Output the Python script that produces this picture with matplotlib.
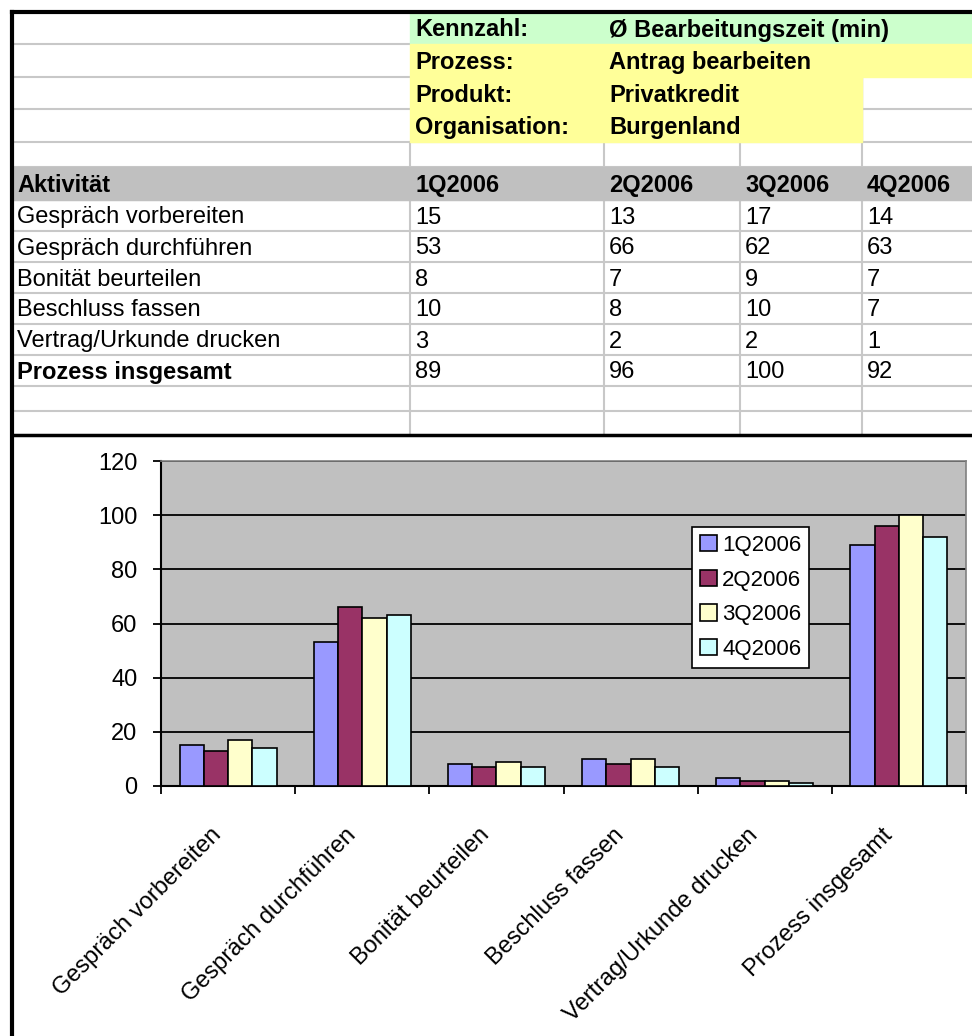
import matplotlib.pyplot as plt
import matplotlib.transforms as mtransforms
from matplotlib.patches import Rectangle

plt.rcParams['font.family'] = ['Liberation Sans', 'DejaVu Sans']

# data
quarters = ['1Q2006', '2Q2006', '3Q2006', '4Q2006']
activities = ['Gespräch vorbereiten', 'Gespräch durchführen', 'Bonität beurteilen',
              'Beschluss fassen', 'Vertrag/Urkunde drucken', 'Prozess insgesamt']
q1 = [15, 53, 8, 10, 3, 89]
q2 = [13, 66, 7, 8, 2, 96]
q3 = [17, 62, 9, 10, 2, 100]
q4 = [14, 63, 7, 7, 1, 92]
meta_labels = ['Kennzahl:', 'Prozess:', 'Produkt:', 'Organisation:']
meta_values = ['Ø Bearbeitungszeit (min)', 'Antrag bearbeiten', 'Privatkredit', 'Burgenland']

series = [q1, q2, q3, q4]
colors = ['#9999FF', '#993366', '#FFFFCC', '#CCFFFF']

W, H = 972, 1036
fig = plt.figure(figsize=(W / 100, H / 100), dpi=100)
fig.patch.set_facecolor('white')

# ---- spreadsheet part, drawn in pixel coordinates ----
tab = fig.add_axes([0, 0, 1, 1])
tab.set_xlim(0, W)
tab.set_ylim(H, 0)
tab.axis('off')

col_x = [12, 410, 604, 740, 862, 972]
row_y = [12, 44, 77, 109, 142, 167, 200, 231, 262, 293, 324, 355, 386, 411, 435]
grid_c = '#c8c8c8'

# fills
tab.add_patch(Rectangle((410, row_y[0]), 972 - 410, row_y[1] - row_y[0], color='#CCFFCC', zorder=1))
tab.add_patch(Rectangle((410, row_y[1]), 972 - 410, row_y[2] - row_y[1], color='#FFFF99', zorder=1))
tab.add_patch(Rectangle((410, row_y[2]), 862 - 410, row_y[4] - row_y[2], color='#FFFF99', zorder=1))
tab.add_patch(Rectangle((12, row_y[5]), 972 - 12, row_y[6] - row_y[5], color='#C0C0C0', zorder=1))

# horizontal grid lines
for i, y in enumerate(row_y[1:-1], start=1):
    if i <= 3:
        tab.plot([12, 410], [y, y], color=grid_c, lw=1.5, zorder=0.5)
        if i == 3:
            tab.plot([862, 972], [y, y], color=grid_c, lw=1.5, zorder=0.5)
    else:
        tab.plot([12, 972], [y, y], color=grid_c, lw=1.5, zorder=0.5)

# vertical grid lines (below the coloured block)
for x in col_x[1:-1]:
    tab.plot([x, x], [row_y[4], row_y[5]], color=grid_c, lw=1.5, zorder=0.5)
    tab.plot([x, x], [row_y[6], row_y[-1]], color=grid_c, lw=1.5, zorder=0.5)
tab.plot([862, 862], [row_y[2], row_y[4]], color=grid_c, lw=1.0, zorder=0.5)

# borders
tab.plot([12, 972], [12, 12], color='black', lw=3, zorder=3)
tab.plot([12, 12], [12, H], color='black', lw=3, zorder=3)
tab.plot([12, 972], [435, 435], color='black', lw=2.5, zorder=3)

fs = 17


def cell_text(col, row, s, bold=False):
    yc = (row_y[row] + row_y[row + 1]) / 2 + 2
    tab.text(col_x[col] + 5, yc, s, fontsize=fs, va='center', ha='left',
             fontweight='bold' if bold else 'normal', zorder=4)


for r, (lab, val) in enumerate(zip(meta_labels, meta_values)):
    cell_text(1, r, lab, bold=True)
    cell_text(2, r, val, bold=True)

cell_text(0, 5, 'Aktivität', bold=True)
for c, q in enumerate(quarters):
    cell_text(c + 1, 5, q, bold=True)

for r, act in enumerate(activities):
    cell_text(0, 6 + r, act, bold=(act == 'Prozess insgesamt'))
    for c, vals in enumerate(series):
        cell_text(c + 1, 6 + r, str(vals[r]))

# ---- chart ----
left, right, top, bottom = 161, 966, 461, 786
ax = fig.add_axes([left / W, (H - bottom) / H, (right - left) / W, (bottom - top) / H])
ax.set_facecolor('#C0C0C0')

bw = 0.181
xs = list(range(len(activities)))
for k, (vals, q, col) in enumerate(zip(series, quarters, colors)):
    ax.bar([x + (k - 1.5) * bw for x in xs], vals, width=bw, color=col,
           edgecolor='black', linewidth=1.2, label=q, zorder=3)

ax.set_xlim(-0.5, len(activities) - 0.5)
ax.set_ylim(0, 120)
ax.set_yticks(range(0, 121, 20))
ax.yaxis.grid(True, color='black', linewidth=1.3, zorder=1)
ax.set_axisbelow(True)

ax.set_xticks([x - 0.5 for x in range(len(activities) + 1)])
ax.set_xticklabels([])
ax.set_xticks(xs, labels=activities, minor=True)
ax.tick_params(axis='x', which='major', direction='out', length=6, width=1.3)
ax.tick_params(axis='x', which='minor', length=0, labelsize=17, pad=33)
ax.tick_params(axis='y', direction='out', length=6, width=1.3, labelsize=17, pad=11)
shift = mtransforms.ScaledTranslation(-0.1, 0, fig.dpi_scale_trans)
for lbl in ax.get_xticklabels(minor=True):
    lbl.set_rotation(45)
    lbl.set_ha('right')
    lbl.set_va('center')
    lbl.set_rotation_mode('anchor')
    lbl.set_transform(lbl.get_transform() + shift)

for s in ['left', 'bottom']:
    ax.spines[s].set_color('black')
    ax.spines[s].set_linewidth(1.5)
for s in ['top', 'right']:
    ax.spines[s].set_color('#808080')
    ax.spines[s].set_linewidth(1.2)

leg = ax.legend(loc='upper left', bbox_to_anchor=(0.66, 0.797), fontsize=16,
                frameon=True, fancybox=False, framealpha=1, edgecolor='black',
                handlelength=0.75, handleheight=0.75, handletextpad=0.25,
                labelspacing=0.62, borderpad=0.35, borderaxespad=0)
leg.get_frame().set_linewidth(1.2)

fig.savefig('out.png', dpi=100)
